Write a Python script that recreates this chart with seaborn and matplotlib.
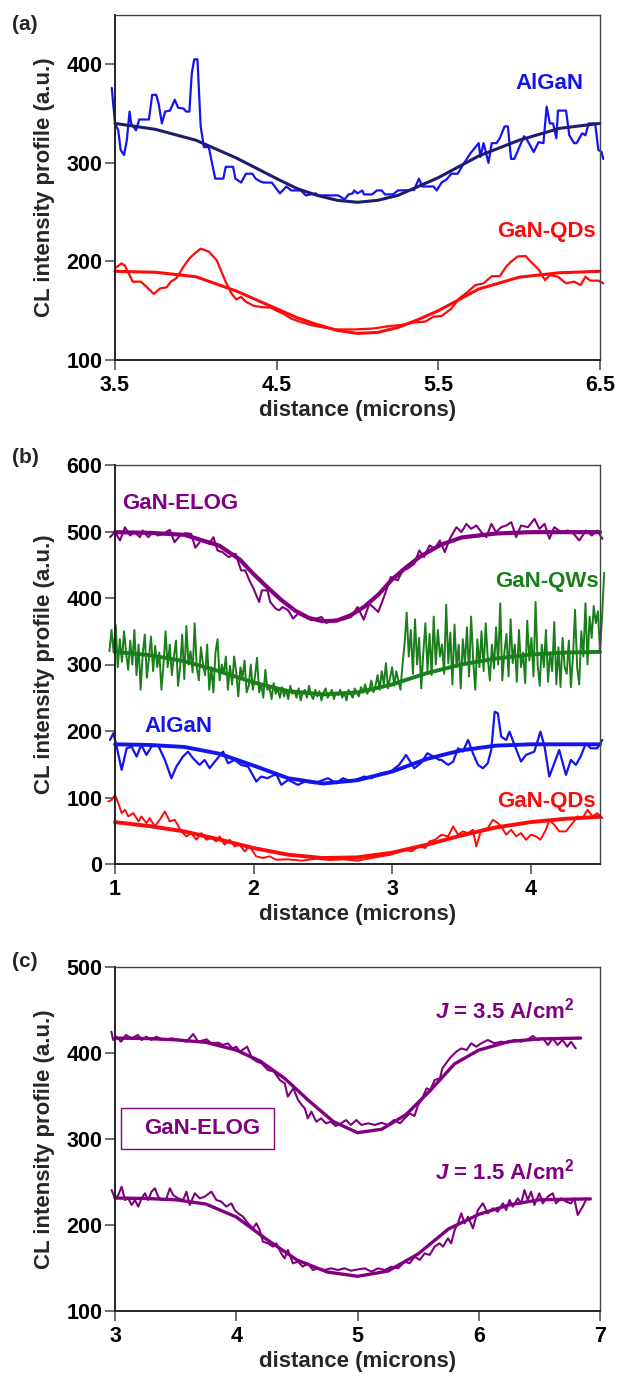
import matplotlib
matplotlib.use('Agg')
import matplotlib.pyplot as plt
import seaborn as sns
from matplotlib.patches import Rectangle

sns.set_theme(style='ticks')
plt.rcParams['font.family'] = ['Liberation Sans', 'DejaVu Sans']
plt.rcParams['font.weight'] = 'bold'
plt.rcParams['axes.labelweight'] = 'bold'
plt.rcParams['mathtext.fontset'] = 'custom'
plt.rcParams['mathtext.rm'] = 'Liberation Sans:bold'
plt.rcParams['mathtext.it'] = 'Liberation Sans:italic:bold'
plt.rcParams['mathtext.bf'] = 'Liberation Sans:bold'

# ---------------- panel (a) ----------------
a_algan_x = [3.48, 3.50, 3.52, 3.535, 3.556, 3.573, 3.59, 3.60, 3.63, 3.65, 3.71, 3.73, 3.755,
             3.77, 3.79, 3.81, 3.84, 3.87, 3.89, 3.925, 3.94, 3.96, 3.975, 3.99, 4.01, 4.03,
             4.05, 4.08, 4.12, 4.17, 4.185, 4.23, 4.245, 4.28, 4.31, 4.35, 4.37, 4.40, 4.42,
             4.47, 4.52, 4.56, 4.59, 4.65, 4.68, 4.74, 4.76, 4.88, 4.92, 4.945, 4.97, 4.98,
             5.00, 5.03, 5.04, 5.09, 5.12, 5.15, 5.17, 5.22, 5.25, 5.35, 5.38, 5.40, 5.47,
             5.49, 5.52, 5.55, 5.58, 5.62, 5.66, 5.70, 5.75, 5.76, 5.78, 5.81, 5.83, 5.86,
             5.88, 5.91, 5.93, 5.95, 5.97, 6.03, 6.05, 6.09, 6.12, 6.15, 6.17, 6.19, 6.21,
             6.23, 6.24, 6.29, 6.31, 6.34, 6.355, 6.39, 6.41, 6.43, 6.47, 6.49, 6.51, 6.52]
a_algan_y = [376, 340, 333, 313, 308, 323, 352, 340, 333, 344, 344, 369, 369,
             360, 340, 352, 353, 364, 356, 355, 352, 352, 391, 405, 405, 337,
             316, 316, 284, 284, 296, 296, 284, 280, 289, 289, 284, 281, 280,
             280, 269, 276, 272, 272, 267, 269, 267, 267, 263, 268, 269, 272,
             269, 272, 268, 268, 272, 272, 268, 268, 272, 272.5, 284, 276, 276,
             272, 280, 283, 289, 289, 300, 310, 320, 306, 320, 300, 320, 320,
             325, 337, 337, 304, 304, 327, 323, 311, 321, 320, 357, 340, 340,
             325, 353, 353, 328, 320, 320, 330, 328, 340, 340, 313, 311, 304]
a_fit_x = [3.5, 3.75, 4.0, 4.25, 4.5, 4.625, 4.75, 4.875, 5.0, 5.125, 5.25, 5.375, 5.5,
           5.75, 6.0, 6.25, 6.5]
a_algan_fit = [340, 334, 323, 305, 284, 274, 267, 262, 260, 262, 267, 276, 285,
               307, 323, 335, 340]
a_qds_x = [3.50, 3.54, 3.56, 3.61, 3.66, 3.69, 3.74, 3.78, 3.82, 3.845, 3.88, 3.925, 3.96,
           4.00, 4.03, 4.08, 4.13, 4.18, 4.22, 4.25, 4.28, 4.31, 4.36, 4.42, 4.46, 4.50,
           4.54, 4.59, 4.64, 4.71, 4.79, 4.86, 4.98, 5.10, 5.20, 5.27, 5.35, 5.42, 5.47,
           5.52, 5.58, 5.63, 5.67, 5.73, 5.78, 5.83, 5.88, 5.92, 5.95, 5.99, 6.04, 6.07,
           6.12, 6.16, 6.19, 6.24, 6.29, 6.34, 6.38, 6.41, 6.44, 6.49, 6.52]
a_qds_y = [193, 198, 196, 179.5, 179.5, 175, 167, 172.7, 173.7, 179.5, 183, 195, 203,
           209, 213, 210, 201, 181, 167.6, 161.5, 164, 159, 154.8, 153.4, 153.4, 150,
           147, 142, 139, 135.5, 133, 131, 131, 132, 134.5, 135.5, 138, 139, 144,
           144.6, 152, 162.5, 167.6, 176, 177.8, 185, 185, 194.7, 199.8, 205, 205.5, 200,
           192, 181, 186, 184.5, 177.8, 179.5, 176, 184.5, 180.5, 180.5, 177.8]
a_qds_fit = [190, 189, 184.5, 170, 152, 143, 136, 130, 127, 128, 133, 141, 150,
             172, 184, 188.5, 190]

# ---------------- panel (b) ----------------
b_fit_x = [1.0, 1.25, 1.5, 1.75, 1.9, 2.0, 2.1, 2.2, 2.3, 2.4, 2.5, 2.6, 2.7, 2.8, 2.9,
           3.0, 3.1, 3.2, 3.35, 3.5, 3.75, 4.0, 4.25, 4.5]
b_elog_fit = [499, 498, 495, 479, 458, 436, 416, 397, 381, 370, 365, 366, 374, 387, 405,
              428, 446, 462, 480, 491, 497, 499, 499, 499]
b_elog_x = [0.964, 1.0, 1.036, 1.072, 1.108, 1.14, 1.18, 1.20, 1.24, 1.275, 1.31, 1.35,
            1.395, 1.43, 1.47, 1.51, 1.55, 1.58, 1.62, 1.68, 1.71, 1.74, 1.775, 1.82,
            1.87, 1.91, 1.94, 1.97, 2.0, 2.04, 2.06, 2.10, 2.12, 2.16, 2.185, 2.21, 2.25,
            2.285, 2.32, 2.37, 2.42, 2.49, 2.525, 2.585, 2.645, 2.705, 2.75, 2.795, 2.836,
            2.9, 2.945, 2.99, 3.04, 3.076, 3.11, 3.16, 3.196, 3.23, 3.27, 3.308, 3.344,
            3.38, 3.416, 3.464, 3.5, 3.536, 3.57, 3.608, 3.644, 3.68, 3.716, 3.75, 3.787,
            3.823, 3.86, 3.895, 3.93, 3.98, 4.027, 4.063, 4.1, 4.135, 4.17, 4.22, 4.266,
            4.3, 4.35, 4.4, 4.44, 4.48, 4.517]
b_elog_y = [491.5, 499, 486.5, 506.5, 494, 499, 491.5, 501.5, 491.5, 499, 494, 496.5,
            502.5, 484, 494, 497.5, 496.5, 475.5, 486.5, 481.5, 491.5, 471.5, 469, 461.5,
            466.5, 441.5, 441.5, 426.5, 414, 394, 411.5, 411.5, 394, 384, 381.5, 386.5,
            381.5, 369, 376.5, 371.5, 366.5, 371.5, 362.5, 367.5, 367.5, 371.5, 386.5,
            367.5, 391.5, 379, 404, 431.5, 426.5, 441.5, 444, 451.5, 471.5, 461.5, 479,
            474, 486.5, 469, 489, 506.5, 499, 511.5, 504, 509, 499, 491.5, 511.5, 499,
            506.5, 509, 514, 491.5, 509, 506.5, 519, 504, 511.5, 489, 506.5, 499, 501.5,
            499, 486.5, 501.5, 494, 501.5, 489]
b_qws_fit_x = [1.0, 1.25, 1.5, 1.75, 2.0, 2.25, 2.5, 2.75, 3.0, 3.25, 3.5, 3.75, 4.0,
               4.25, 4.5]
b_qws_fit = [319, 314, 305, 290, 273, 260, 255, 258, 270, 287, 300, 309, 315, 318, 319]
b_qws_x = [0.96, 0.975, 0.99, 1.005, 1.02, 1.035, 1.05, 1.065, 1.08, 1.095,
           1.11, 1.125, 1.14, 1.155, 1.17, 1.185, 1.2, 1.215, 1.23, 1.245,
           1.26, 1.275, 1.29, 1.305, 1.32, 1.335, 1.35, 1.365, 1.38, 1.395,
           1.41, 1.425, 1.44, 1.455, 1.47, 1.485, 1.5, 1.515, 1.53, 1.545,
           1.56, 1.575, 1.59, 1.605, 1.62, 1.635, 1.65, 1.665, 1.68, 1.695,
           1.71, 1.725, 1.74, 1.755, 1.77, 1.785, 1.8, 1.815, 1.83, 1.845,
           1.86, 1.875, 1.89, 1.905, 1.92, 1.935, 1.95, 1.965, 1.98, 1.995,
           2.01, 2.025, 2.04, 2.055, 2.07, 2.085, 2.1, 2.115, 2.13, 2.145,
           2.16, 2.175, 2.19, 2.205, 2.22, 2.235, 2.25, 2.265, 2.28, 2.295,
           2.31, 2.325, 2.34, 2.355, 2.37, 2.385, 2.4, 2.415, 2.43, 2.445,
           2.46, 2.475, 2.49, 2.505, 2.52, 2.535, 2.55, 2.565, 2.58, 2.595,
           2.61, 2.625, 2.64, 2.655, 2.67, 2.685, 2.7, 2.715, 2.73, 2.745,
           2.76, 2.775, 2.79, 2.805, 2.82, 2.835, 2.85, 2.865, 2.88, 2.895,
           2.91, 2.925, 2.94, 2.955, 2.97, 2.985, 3.0, 3.015, 3.03, 3.045,
           3.06, 3.075, 3.09, 3.105, 3.12, 3.135, 3.15, 3.165, 3.18, 3.195,
           3.21, 3.225, 3.24, 3.255, 3.27, 3.285, 3.3, 3.315, 3.33, 3.345,
           3.36, 3.375, 3.39, 3.405, 3.42, 3.435, 3.45, 3.465, 3.48, 3.495,
           3.51, 3.525, 3.54, 3.555, 3.57, 3.585, 3.6, 3.615, 3.63, 3.645,
           3.66, 3.675, 3.69, 3.705, 3.72, 3.735, 3.75, 3.765, 3.78, 3.795,
           3.81, 3.825, 3.84, 3.855, 3.87, 3.885, 3.9, 3.915, 3.93, 3.945,
           3.96, 3.975, 3.99, 4.005, 4.02, 4.035, 4.05, 4.065, 4.08, 4.095,
           4.11, 4.125, 4.14, 4.155, 4.17, 4.185, 4.2, 4.215, 4.23, 4.245,
           4.26, 4.275, 4.29, 4.305, 4.32, 4.335, 4.35, 4.365, 4.38, 4.395,
           4.41, 4.425, 4.44, 4.455, 4.47, 4.485, 4.5, 4.515, 4.53]
b_qws_y = [320, 352, 318, 360, 296, 338, 304, 350, 318, 292,
           336, 300, 352, 284, 330, 262, 316, 345, 280, 310,
           342, 290, 328, 296, 318, 262, 300, 350, 296, 330,
           284, 312, 336, 268, 296, 345, 278, 358, 300, 320,
           288, 362, 296, 276, 326, 300, 284, 330, 262, 296,
           258, 318, 338, 276, 300, 286, 312, 262, 298, 270,
           312, 288, 252, 296, 280, 306, 258, 268, 300, 262,
           282, 310, 258, 270, 250, 292, 262, 266, 248, 272,
           256, 264, 250, 266, 252, 262, 248, 268, 256, 260,
           250, 264, 246, 258, 262, 250, 268, 254, 248, 262,
           252, 260, 246, 258, 264, 250, 256, 262, 248, 258,
           254, 262, 250, 258, 246, 262, 256, 250, 264, 258,
           252, 266, 258, 270, 256, 262, 276, 258, 268, 284,
           262, 290, 270, 302, 264, 280, 296, 268, 290, 276,
           262, 300, 332, 378, 312, 352, 286, 368, 300, 340,
           264, 318, 362, 290, 346, 284, 372, 300, 352, 312,
           330, 286, 390, 302, 348, 270, 360, 296, 330, 264,
           338, 300, 356, 282, 372, 306, 262, 338, 296, 350,
           290, 362, 310, 276, 330, 294, 356, 300, 392, 276,
           318, 346, 282, 368, 302, 330, 274, 352, 296, 318,
           272, 366, 306, 340, 282, 394, 300, 268, 330, 296,
           352, 274, 318, 290, 364, 270, 326, 266, 340, 296,
           286, 336, 266, 312, 382, 296, 270, 350, 312, 392,
           300, 372, 340, 388, 362, 380, 320, 372, 438]
b_algan_fit = [180, 179, 176, 166, 148, 129, 121, 126, 139, 158, 171, 178, 180, 180, 180]
b_algan_x = [0.964, 0.988, 1.012, 1.048, 1.084, 1.12, 1.156, 1.19, 1.227, 1.263, 1.31,
             1.36, 1.407, 1.443, 1.49, 1.527, 1.563, 1.61, 1.647, 1.683, 1.72, 1.78,
             1.815, 1.863, 1.91, 1.96, 2.02, 2.055, 2.1, 2.15, 2.166, 2.2, 2.25, 2.32,
             2.37, 2.44, 2.537, 2.597, 2.645, 2.705, 2.8, 2.85, 2.92, 2.99, 3.05, 3.1,
             3.16, 3.206, 3.254, 3.3, 3.34, 3.356, 3.404, 3.44, 3.476, 3.51, 3.548,
             3.583, 3.62, 3.655, 3.69, 3.715, 3.74, 3.763, 3.787, 3.823, 3.847, 3.883,
             3.93, 3.966, 4.026, 4.07, 4.1, 4.134, 4.17, 4.206, 4.254, 4.29, 4.326,
             4.36, 4.398, 4.433, 4.48, 4.517]
b_algan_y = [186.5, 196.5, 176.5, 141.5, 174, 176.5, 161.5, 179, 164, 176.5, 179,
             156.5, 129, 146.5, 161.5, 169, 159, 149, 156.5, 144, 154, 169,
             151.5, 156.5, 149, 146.5, 124, 131.5, 129, 134, 134, 119, 126.5, 119,
             124, 121.5, 129, 121.5, 129, 124, 131.5, 129, 136.5, 139, 149, 164,
             144, 151.5, 166.5, 161.5, 156.5, 156.5, 149, 154, 174, 169, 186.5,
             166.5, 149, 144, 151.5, 171.5, 229, 226.5, 191.5, 186.5, 199, 179,
             154, 164, 169, 199, 176.5, 131.5, 151.5, 171.5, 134, 156.5, 149,
             161.5, 181.5, 174, 174, 186.5]
b_qds_fit = [63, 57, 49, 37, 24, 14, 9, 10, 17, 29, 43, 55, 63, 68, 71]
b_qds_x = [0.952, 0.976, 1.0, 1.024, 1.048, 1.072, 1.096, 1.132, 1.17, 1.19, 1.227,
           1.251, 1.287, 1.323, 1.36, 1.395, 1.431, 1.479, 1.515, 1.551, 1.587,
           1.623, 1.659, 1.695, 1.731, 1.755, 1.791, 1.827, 1.863, 1.899, 1.935,
           1.971, 2.019, 2.067, 2.115, 2.163, 2.25, 2.35, 2.45, 2.55, 2.65, 2.75,
           2.85, 2.99, 3.09, 3.14, 3.19, 3.24, 3.27, 3.31, 3.356, 3.404, 3.44,
           3.476, 3.51, 3.548, 3.583, 3.607, 3.643, 3.69, 3.727, 3.763, 3.787,
           3.823, 3.859, 3.895, 3.93, 3.966, 4.002, 4.038, 4.07, 4.11, 4.134, 4.17,
           4.206, 4.254, 4.302, 4.34, 4.374, 4.41, 4.446, 4.48, 4.517]
b_qds_y = [94, 96.5, 104, 91.5, 76.5, 81.5, 71.5, 76.5, 64, 71.5, 61.5,
           69, 56.5, 66.5, 79, 64, 66.5, 49, 41.5, 46.5, 36.5,
           46.5, 36.5, 39, 34, 41.5, 29, 36.5, 26.5, 29, 19,
           26.5, 11.5, 9, 11.5, 6.5, 7, 5, 8, 6, 7, 5,
           9, 14, 21.5, 19, 26.5, 24, 34, 36.5, 44, 41.5, 56.5,
           44, 49, 46.5, 51.5, 26.5, 51.5, 54, 66.5, 61.5, 56.5,
           44, 51.5, 41.5, 46.5, 36.5, 44, 41.5, 36.5, 51.5, 66.5, 59,
           49, 49, 61.5, 71.5, 69, 81.5, 71.5, 76.5, 69]

# ---------------- panel (c) ----------------
c_hi_fit_x = [3.0, 3.25, 3.5, 3.75, 4.0, 4.2, 4.4, 4.6, 4.8, 5.0, 5.2, 5.4, 5.6, 5.8,
              6.0, 6.25, 6.5, 6.84]
c_hi_fit = [417, 416.5, 415, 412, 403, 390, 370, 344, 320, 307, 311, 328, 356, 387,
            403, 413, 416, 417]
c_hi_x = [2.97, 2.985, 3.01, 3.05, 3.09, 3.137, 3.19, 3.22, 3.26, 3.30, 3.34, 3.40,
          3.467, 3.52, 3.59, 3.645, 3.685, 3.755, 3.795, 3.85, 3.89, 3.93, 3.97, 4.0,
          4.03, 4.09, 4.13, 4.17, 4.21, 4.26, 4.31, 4.36, 4.40, 4.425, 4.47, 4.51, 4.54,
          4.565, 4.59, 4.62, 4.66, 4.70, 4.74, 4.78, 4.82, 4.865, 4.905, 4.945, 4.99,
          5.033, 5.088, 5.143, 5.197, 5.25, 5.30, 5.35, 5.39, 5.43, 5.47, 5.50, 5.527,
          5.57, 5.60, 5.636, 5.68, 5.70, 5.74, 5.773, 5.815, 5.856, 5.9, 5.938, 5.98,
          6.02, 6.075, 6.13, 6.185, 6.24, 6.295, 6.35, 6.405, 6.445, 6.487, 6.53,
          6.57, 6.61, 6.65, 6.69, 6.73, 6.76, 6.8]
c_hi_y = [424.5, 414.8, 418.6, 412.8, 420.6, 416.7, 420.6, 414.8, 418.6, 414.8, 418.6,
          414.8, 416.7, 414.8, 412.8, 421.7, 412.8, 415.5, 410.9, 411.7, 409, 410.9,
          405, 407, 401.2, 407, 393.4, 389.6, 387.6, 379.9, 378, 368.2, 364.4, 348.9,
          358.6, 345, 339.2, 335.3, 323.7, 331.4, 319.8, 323.7, 317.9, 319.8, 314.8,
          317.9, 321.7, 316, 321.7, 316, 317.9, 316, 318.6, 316, 321.7, 317.9, 323.7,
          329.5, 326.4, 339.2, 345, 358.6, 356.6, 368.2, 370.2, 381.8, 389.6, 395.4,
          401.2, 405, 403.1, 410.9, 407, 410.9, 414.8, 410.9, 412.8, 411.7, 414.8,
          412.8, 415.5, 419.4, 414.8, 416.7, 409, 416.7, 409, 414.8, 407, 412.8, 405]
c_lo_fit_x = [3.0, 3.25, 3.5, 3.75, 4.0, 4.25, 4.5, 4.75, 5.0, 5.25, 5.5, 5.75, 6.0,
              6.25, 6.5, 6.92]
c_lo_fit = [231, 230.5, 229, 224, 209, 183, 159, 145, 140, 146, 166, 195, 212, 223,
            229, 230]
c_lo_x = [2.972, 3.0, 3.027, 3.055, 3.082, 3.109, 3.137, 3.164, 3.192, 3.219,
          3.247, 3.274, 3.301, 3.329, 3.356, 3.384, 3.425, 3.452, 3.48, 3.521,
          3.562, 3.589, 3.617, 3.658, 3.699, 3.74, 3.795, 3.836, 3.877, 3.918,
          3.96, 3.987, 4.015, 4.056, 4.097, 4.138, 4.166, 4.193, 4.22, 4.262,
          4.303, 4.33, 4.371, 4.399, 4.426, 4.467, 4.508, 4.549, 4.59, 4.632,
          4.673, 4.728, 4.783, 4.838, 4.893, 4.947, 5.002, 5.06, 5.115, 5.17,
          5.225, 5.28, 5.335, 5.39, 5.43, 5.472, 5.513, 5.554, 5.595, 5.636,
          5.677, 5.705, 5.746, 5.773, 5.801, 5.828, 5.856, 5.883, 5.911, 5.952,
          5.993, 6.034, 6.075, 6.116, 6.157, 6.199, 6.226, 6.254, 6.281, 6.322,
          6.35, 6.377, 6.404, 6.432, 6.459, 6.5, 6.528, 6.569, 6.61, 6.637,
          6.679, 6.72, 6.761, 6.788, 6.816, 6.857, 6.884]
c_lo_y = [240.3, 230.6, 234.5, 244.2, 228.7, 230.6, 222.9, 228.7, 221, 230.6,
          236.5, 228.7, 238.4, 242.3, 232.6, 228.7, 230.6, 242.3, 234.5, 230.6,
          228.7, 238.4, 222.9, 236.5, 230.6, 232.6, 238.4, 228.7, 226.8, 221,
          224.8, 217.1, 213.2, 209.3, 201.6, 195.8, 201.6, 193.9, 180.3, 178.3,
          174.5, 178.3, 166.7, 160.9, 170.6, 155.1, 157, 151.2, 155.1, 147.3,
          149.3, 147.3, 149.3, 147.3, 149.3, 146.5, 148, 149.3, 145.4, 149.3,
          147.3, 151.2, 149.3, 157, 155.1, 162.8, 159, 166.7, 164.8, 174.5,
          178.3, 174.5, 184.1, 178.3, 193.9, 201.6, 213.2, 201.6, 209.3, 195.8,
          217.1, 224.8, 213.2, 219.1, 215.1, 224.8, 217.1, 228.7, 221, 230.6,
          224.8, 240.3, 228.7, 238.4, 222.9, 236.5, 224.8, 232.6, 236.5, 224.8,
          230.6, 226.8, 224.8, 230.6, 211.3, 221, 228.7]

BLUE = '#1414f0'
NAVY = '#1c1c70'
RED = '#ff0a0a'
PURPLE = '#800080'
GREEN = '#1a7f1a'

FIG_W, FIG_H = 619, 1376
LEFT, RIGHT = 115, 600


def add_panel(fig, top_px, bottom_px):
    ax = fig.add_axes([LEFT / FIG_W, 1 - bottom_px / FIG_H,
                       (RIGHT - LEFT) / FIG_W, (bottom_px - top_px) / FIG_H])
    return ax


def draw(ax, x, y, color, lw):
    sns.lineplot(x=x, y=y, ax=ax, color=color, lw=lw, estimator=None, sort=False,
                 clip_on=False)


def style(ax, xlim, ylim, xticks, yticks, xticklabels=None):
    ax.set_xlim(*xlim)
    ax.set_ylim(*ylim)
    ax.set_xticks(xticks)
    if xticklabels is not None:
        ax.set_xticklabels(xticklabels)
    ax.set_yticks(yticks)
    for side in ['left', 'bottom']:
        ax.spines[side].set_color('#222222')
        ax.spines[side].set_linewidth(1.4)
    for side in ['top', 'right']:
        ax.spines[side].set_visible(True)
        ax.spines[side].set_color('#444444')
        ax.spines[side].set_linewidth(1.0)
    ax.tick_params(axis='both', direction='out', length=7, width=1.2, color='#555555',
                   labelsize=15.5, labelcolor='black')
    ax.tick_params(axis='y', pad=2)
    ax.tick_params(axis='x', pad=4)
    ax.set_xlabel('distance (microns)', fontsize=16, labelpad=3)
    ax.set_ylabel('CL intensity profile (a.u.)', fontsize=16, labelpad=8)
    ax.grid(False)


fig = plt.figure(figsize=(FIG_W / 100, FIG_H / 100), dpi=100)

# (a)
ax_a = add_panel(fig, 15, 360)
draw(ax_a, a_algan_x, a_algan_y, BLUE, 1.6)
draw(ax_a, a_fit_x, a_algan_fit, NAVY, 2.2)
draw(ax_a, a_qds_x, a_qds_y, RED, 1.6)
draw(ax_a, a_fit_x, a_qds_fit, RED, 2.2)
ax_a.text(6.19, 381, 'AlGaN', color=BLUE, fontsize=16, fontweight='bold',
          ha='center', va='center')
ax_a.text(6.166, 230, 'GaN-QDs', color=RED, fontsize=16, fontweight='bold',
          ha='center', va='center')
style(ax_a, (3.5, 6.5), (100, 450), [3.5, 4.5, 5.5, 6.5], [100, 200, 300, 400],
      ['3.5', '4.5', '5.5', '6.5'])

# (b)
ax_b = add_panel(fig, 465, 864)
draw(ax_b, b_elog_x, b_elog_y, PURPLE, 1.5)
draw(ax_b, b_fit_x, b_elog_fit, PURPLE, 3.0)
draw(ax_b, b_qws_x, b_qws_y, GREEN, 1.4)
draw(ax_b, b_qws_fit_x, b_qws_fit, GREEN, 2.8)
draw(ax_b, b_algan_x, b_algan_y, BLUE, 1.6)
draw(ax_b, b_qws_fit_x, b_algan_fit, BLUE, 2.8)
draw(ax_b, b_qds_x, b_qds_y, RED, 1.4)
draw(ax_b, b_qws_fit_x, b_qds_fit, RED, 2.8)
ax_b.text(1.468, 542, 'GaN-ELOG', color=PURPLE, fontsize=16, fontweight='bold',
          ha='center', va='center')
ax_b.text(4.115, 425, 'GaN-QWs', color=GREEN, fontsize=16, fontweight='bold',
          ha='center', va='center')
ax_b.text(1.461, 207, 'AlGaN', color=BLUE, fontsize=16, fontweight='bold',
          ha='center', va='center')
ax_b.text(4.115, 94, 'GaN-QDs', color=RED, fontsize=16, fontweight='bold',
          ha='center', va='center')
style(ax_b, (1, 4.5), (0, 600), [1, 2, 3, 4], [0, 100, 200, 300, 400, 500, 600])

# (c)
ax_c = add_panel(fig, 966.7, 1310.7)
draw(ax_c, c_hi_x, c_hi_y, PURPLE, 1.5)
draw(ax_c, c_hi_fit_x, c_hi_fit, PURPLE, 2.4)
draw(ax_c, c_lo_x, c_lo_y, PURPLE, 1.5)
draw(ax_c, c_lo_fit_x, c_lo_fit, PURPLE, 2.4)
ax_c.text(6.79, 440, r'$\mathit{J}$ = 3.5 A/cm$^{\mathrm{2}}$', color=PURPLE,
          fontsize=16, fontweight='bold', ha='right', va='baseline')
ax_c.text(6.79, 252, r'$\mathit{J}$ = 1.5 A/cm$^{\mathrm{2}}$', color=PURPLE,
          fontsize=16, fontweight='bold', ha='right', va='baseline')
ax_c.add_patch(Rectangle((0.012, 0.469), 0.315, 0.121, transform=ax_c.transAxes,
                         fill=False, edgecolor=PURPLE, lw=1.0))
ax_c.text(0.18, 0.53, 'GaN-ELOG', color=PURPLE, fontsize=16, fontweight='bold',
          ha='center', va='center', transform=ax_c.transAxes)
style(ax_c, (3, 7), (100, 500), [3, 4, 5, 6, 7], [100, 200, 300, 400, 500])

for label, top in [('(a)', 15), ('(b)', 448), ('(c)', 952)]:
    fig.text(12 / FIG_W, 1 - top / FIG_H, label, fontsize=15, fontweight='bold',
             ha='left', va='top')

fig.savefig('out.png', dpi=100)
